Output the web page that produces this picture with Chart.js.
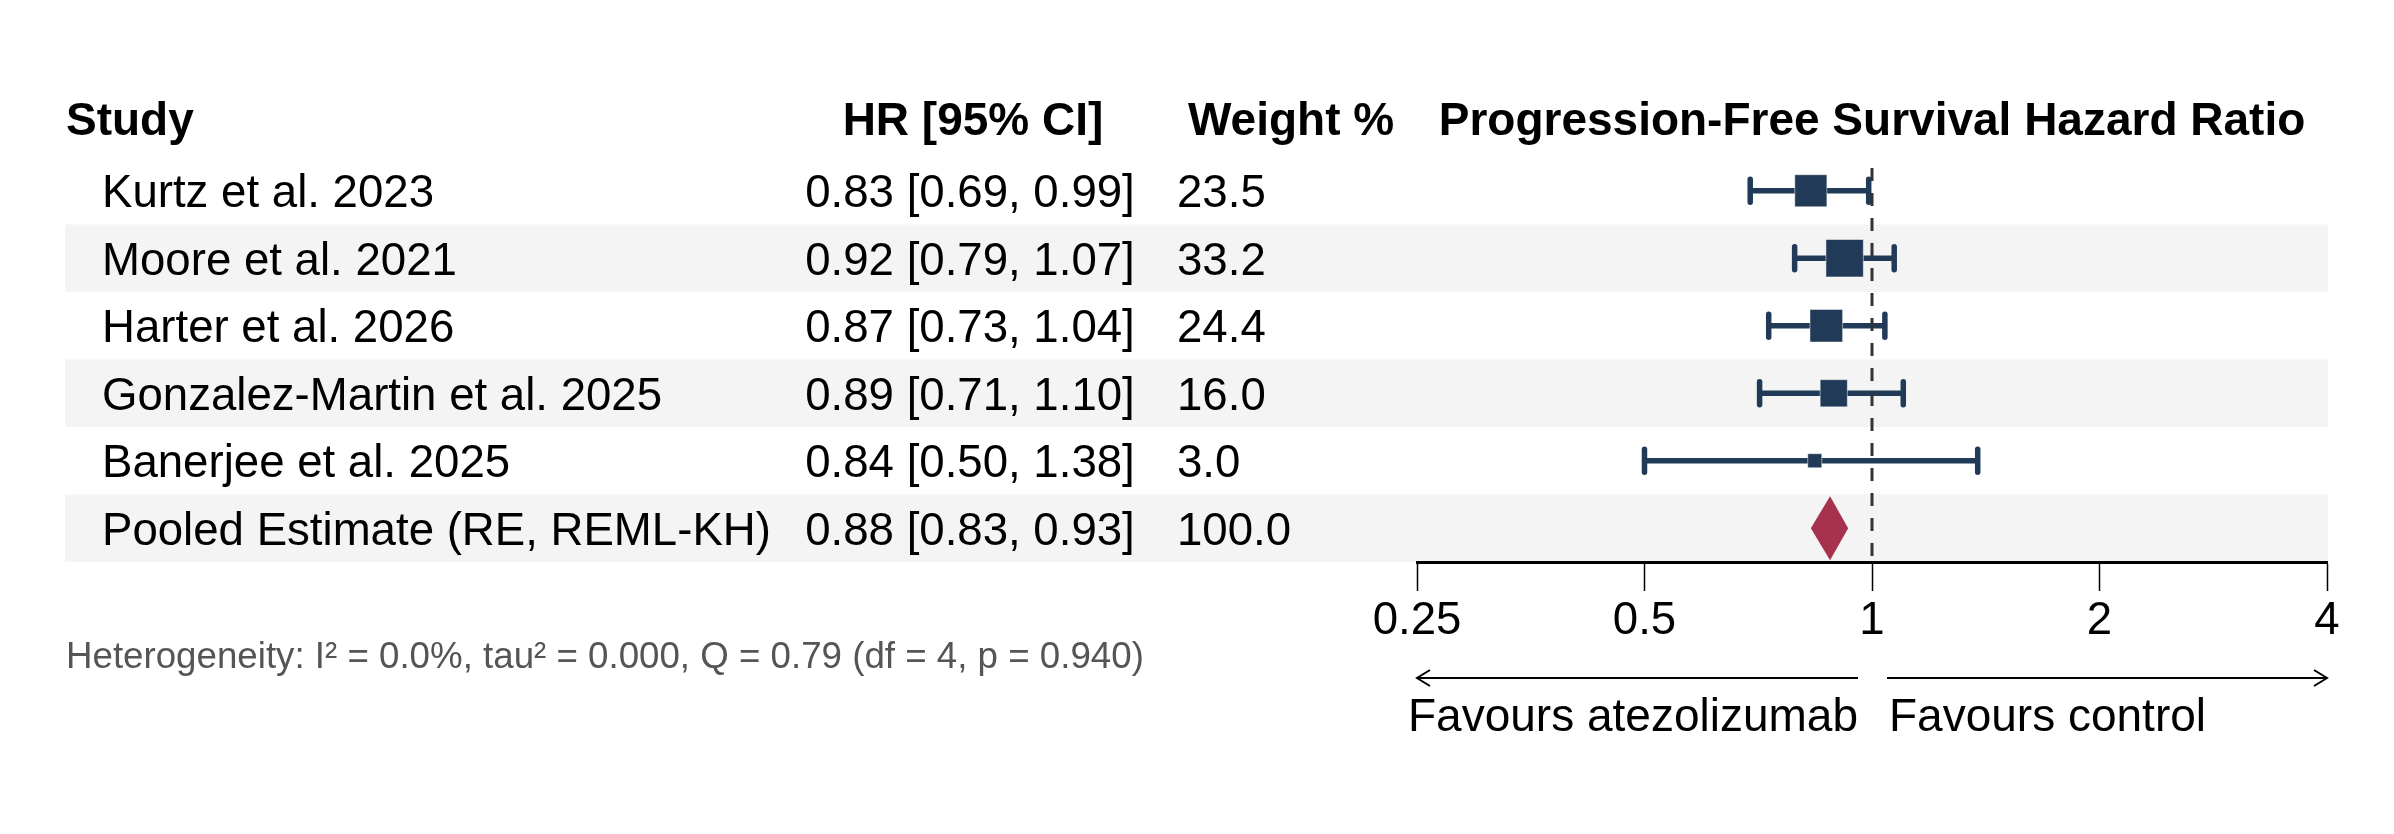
<!DOCTYPE html>
<html>
<head>
<meta charset="utf-8">
<script src="https://cdn.jsdelivr.net/npm/chart.js@4.4.1/dist/chart.umd.min.js"></script>
<style>
  html, body { margin: 0; padding: 0; background: #fff; }
  canvas { display: block; }
</style>
</head>
<body>
<canvas id="myChart" width="2394" height="834"></canvas>
<script>
// study data
const studies = ['Kurtz et al. 2023', 'Moore et al. 2021', 'Harter et al. 2026', 'Gonzalez-Martin et al. 2025', 'Banerjee et al. 2025']
const hr = [0.83, 0.92, 0.87, 0.89, 0.84]
const lower = [0.69, 0.79, 0.73, 0.71, 0.50]
const upper = [0.99, 1.07, 1.04, 1.10, 1.38]
const weights = [23.5, 33.2, 24.4, 16.0, 3.0]

// pooled estimate
const pooledLabel = 'Pooled Estimate (RE, REML-KH)'
const pooledHr = [0.88]
const pooledLower = [0.83]
const pooledUpper = [0.93]
const pooledWeight = [100.0]

const xTicks = [0.25, 0.5, 1, 2, 4]
const heterogeneity = 'Heterogeneity: I² = 0.0%, tau² = 0.000, Q = 0.79 (df = 4, p = 0.940)'

const FONT = "'Liberation Sans', Arial, sans-serif"
const NAVY = '#203a57'
const RED = '#a6324d'
const pooledRow = studies.length

const fmt = (h, l, u) => `${h.toFixed(2)} [${l.toFixed(2)}, ${u.toFixed(2)}]`

const forestPlugin = {
  id: 'forest',
  beforeDraw(chart) {
    const ctx = chart.ctx
    const y = chart.scales.y
    ctx.save()
    ctx.fillStyle = '#f4f4f4'
    for (let i = 1; i <= pooledRow; i += 2) {
      const top = y.getPixelForValue(i - 0.5)
      const bot = y.getPixelForValue(i + 0.5)
      ctx.fillRect(65, top, 2328 - 65, bot - top)
    }
    ctx.restore()
  },
  beforeDatasetsDraw(chart) {
    const ctx = chart.ctx
    const x = chart.scales.x
    const y = chart.scales.y
    ctx.save()
    ctx.strokeStyle = NAVY
    ctx.lineWidth = 5.5
    ctx.lineCap = 'round'
    for (let i = 0; i < studies.length; i++) {
      const py = y.getPixelForValue(i)
      const x1 = x.getPixelForValue(lower[i])
      const x2 = x.getPixelForValue(upper[i])
      ctx.beginPath()
      ctx.moveTo(x1, py); ctx.lineTo(x2, py)
      ctx.moveTo(x1, py - 11.5); ctx.lineTo(x1, py + 11.5)
      ctx.moveTo(x2, py - 11.5); ctx.lineTo(x2, py + 11.5)
      ctx.stroke()
    }
    // pooled diamond
    const py = y.getPixelForValue(pooledRow)
    ctx.fillStyle = RED
    ctx.beginPath()
    ctx.moveTo(x.getPixelForValue(pooledLower[0]), py)
    ctx.lineTo(x.getPixelForValue(pooledHr[0]), py - 32)
    ctx.lineTo(x.getPixelForValue(pooledUpper[0]), py)
    ctx.lineTo(x.getPixelForValue(pooledHr[0]), py + 32)
    ctx.closePath()
    ctx.fill()
    ctx.restore()
  },
  afterDatasetsDraw(chart) {
    const ctx = chart.ctx
    const x = chart.scales.x
    const area = chart.chartArea
    const px = x.getPixelForValue(1)
    ctx.save()
    ctx.strokeStyle = '#333'
    ctx.lineWidth = 3
    ctx.setLineDash([13, 12])
    ctx.beginPath()
    ctx.moveTo(px, area.top + 11)
    ctx.lineTo(px, area.bottom)
    ctx.stroke()
    ctx.restore()
  },
  afterDraw(chart) {
    const ctx = chart.ctx
    const x = chart.scales.x
    const y = chart.scales.y
    const hy = y.getPixelForValue(-1) - 1
    ctx.save()
    ctx.textBaseline = 'middle'
    ctx.fillStyle = '#000'

    // headers
    ctx.font = `bold 46px ${FONT}`
    ctx.textAlign = 'left'
    ctx.fillText('Study', 66, hy)
    ctx.textAlign = 'center'
    ctx.fillText('HR [95% CI]', 973, hy)
    ctx.textAlign = 'left'
    ctx.fillText('Weight %', 1188, hy)
    ctx.textAlign = 'center'
    ctx.fillText('Progression-Free Survival Hazard Ratio', x.getPixelForValue(1), hy)

    // rows
    ctx.font = `45.6px ${FONT}`
    const rows = studies.map((s, i) => [s, fmt(hr[i], lower[i], upper[i]), weights[i].toFixed(1)])
    rows.push([pooledLabel, fmt(pooledHr[0], pooledLower[0], pooledUpper[0]), pooledWeight[0].toFixed(1)])
    rows.forEach((r, i) => {
      const py = y.getPixelForValue(i) + 4
      ctx.textAlign = 'left'
      ctx.fillText(r[0], 102, py)
      ctx.textAlign = 'center'
      ctx.fillText(r[1], 970, py)
      ctx.textAlign = 'left'
      ctx.fillText(r[2], 1177, py)
    })

    // heterogeneity
    ctx.font = `36.7px ${FONT}`
    ctx.fillStyle = '#555'
    ctx.textAlign = 'left'
    ctx.fillText(heterogeneity, 66, 658)

    // favours arrows
    const px = x.getPixelForValue(1)
    const ay = 678
    const left = x.getPixelForValue(xTicks[0])
    const right = x.getPixelForValue(xTicks[xTicks.length - 1])
    ctx.strokeStyle = '#000'
    ctx.lineWidth = 2
    ctx.beginPath()
    ctx.moveTo(px - 14, ay); ctx.lineTo(left, ay)
    ctx.moveTo(left + 13, ay - 8); ctx.lineTo(left, ay); ctx.lineTo(left + 13, ay + 8)
    ctx.moveTo(px + 15, ay); ctx.lineTo(right, ay)
    ctx.moveTo(right - 13, ay - 8); ctx.lineTo(right, ay); ctx.lineTo(right - 13, ay + 8)
    ctx.stroke()

    ctx.fillStyle = '#000'
    ctx.font = `46px ${FONT}`
    ctx.textAlign = 'right'
    ctx.fillText('Favours atezolizumab', px - 14, 718)
    ctx.textAlign = 'left'
    ctx.fillText('Favours control', px + 17, 718)
    ctx.restore()
  }
}

const ctx = document.getElementById('myChart')

const myChart = new Chart(ctx, {
  type: 'scatter',
  data: {
    datasets: [{
      label: 'Studies',
      data: hr.map((v, i) => ({ x: v, y: i })),
      pointStyle: 'rect',
      pointRadius: weights.map(w => (5.8 * Math.sqrt(w) + 4) / Math.SQRT2),
      pointHoverRadius: weights.map(w => (5.8 * Math.sqrt(w) + 4) / Math.SQRT2),
      backgroundColor: NAVY,
      borderColor: 'rgba(255,255,255,0.5)',
      borderWidth: 1
    }]
  },
  options: {
    responsive: false,
    devicePixelRatio: 1,
    animation: false,
    layout: { padding: { left: 1417, right: 67, top: 157, bottom: 0 } },
    plugins: { legend: { display: false }, tooltip: { enabled: false } },
    scales: {
      x: {
        type: 'logarithmic',
        position: 'bottom',
        min: 0.25,
        max: 4,
        afterBuildTicks: s => { s.ticks = xTicks.map(v => ({ value: v })) },
        afterFit: s => { s.height = 834 - 562 },
        grid: { drawOnChartArea: false, drawTicks: true, tickLength: 29, tickColor: '#000', tickWidth: 1.5 },
        border: { display: true, color: '#000', width: 3 },
        ticks: {
          autoSkip: false,
          maxRotation: 0,
          padding: 3,
          color: '#000',
          font: { size: 45.6, family: FONT },
          callback: v => String(v)
        }
      },
      y: {
        type: 'linear',
        min: -0.5,
        max: 5.5,
        reverse: true,
        display: false
      }
    }
  },
  plugins: [forestPlugin]
})
</script>
</body>
</html>
